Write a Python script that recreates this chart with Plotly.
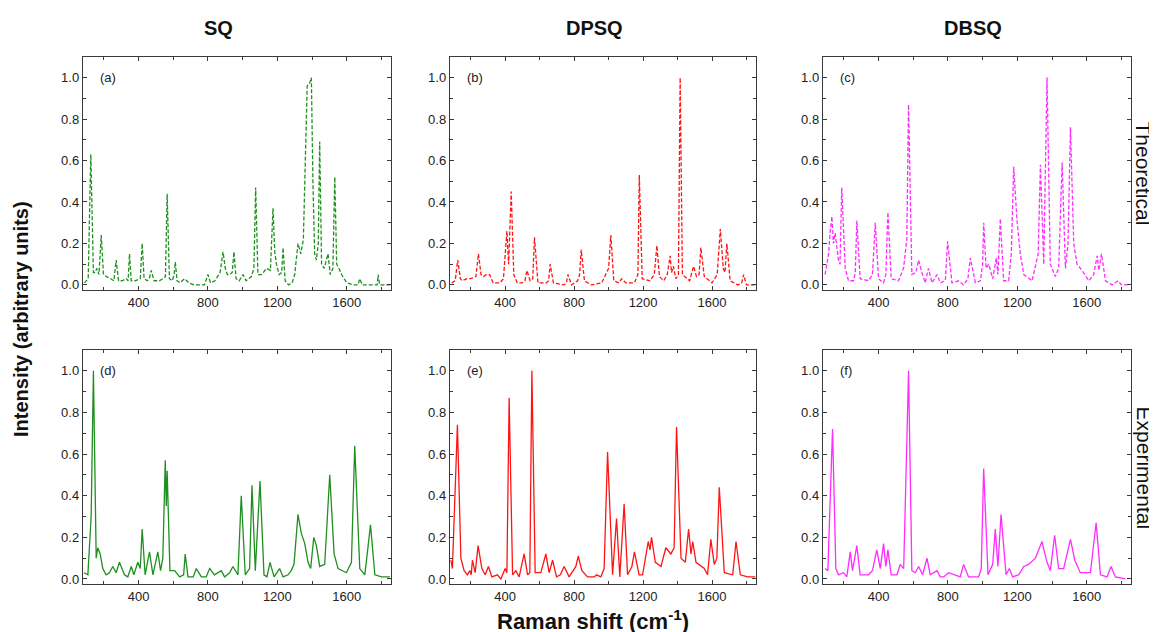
import plotly.graph_objects as go

# ---------------- data ----------------
# (a) SQ theoretical
sq_theo_x = [88, 110, 125, 140, 150, 160, 172, 185, 198, 215, 240, 258, 271, 285, 305, 330, 340, 348, 358, 380,
             410, 421, 432, 450, 462, 473, 490, 520, 540, 555, 565, 578, 595, 605, 612, 622, 640, 665, 690, 720,
             780, 800, 815, 840, 870, 887, 900, 912, 925, 940, 950, 962, 980, 1002, 1020, 1050, 1065, 1075, 1088,
             1110, 1138, 1160, 1175, 1185, 1195, 1210, 1225, 1233, 1245, 1265, 1285, 1300, 1319, 1335, 1350, 1358,
             1372, 1385, 1396, 1405, 1415, 1425, 1436, 1444, 1455, 1470, 1485, 1492, 1505, 1520, 1531, 1542, 1555,
             1570, 1600, 1640, 1665, 1675, 1690, 1720, 1760, 1775, 1781, 1790, 1820, 1850]
sq_theo_y = [0.01, 0.03, 0.63, 0.06, 0.06, 0.08, 0.05, 0.24, 0.05, 0.04, 0.03, 0.02, 0.12, 0.02, 0.02, 0.03, 0.02, 0.15, 0.02, 0.02,
             0.03, 0.20, 0.03, 0.02, 0.03, 0.07, 0.02, 0.02, 0.03, 0.04, 0.44, 0.03, 0.02, 0.05, 0.11, 0.02, 0.01, 0.03, 0.01, 0.00,
             0.00, 0.05, 0.01, 0.02, 0.06, 0.16, 0.08, 0.05, 0.05, 0.06, 0.16, 0.03, 0.02, 0.05, 0.02, 0.04, 0.08, 0.47, 0.05,
             0.05, 0.08, 0.07, 0.37, 0.16, 0.10, 0.05, 0.06, 0.18, 0.02, 0.00, 0.01, 0.05, 0.20, 0.15, 0.22, 0.47,
             0.96, 0.97, 1.00, 0.50, 0.15, 0.12, 0.20, 0.69, 0.10, 0.08, 0.12, 0.15, 0.05, 0.08, 0.52, 0.10, 0.08,
             0.05, 0.01, 0.00, 0.00, 0.03, 0.00, 0.00, 0.00, 0.00, 0.05, 0.00, 0.00, 0.00]

# (b) DPSQ theoretical
dpsq_theo_x = [90, 110, 125, 140, 150, 180, 200, 230, 245, 260, 275, 290, 310, 330, 340, 370, 390, 410, 420, 435,
               450, 470, 500, 515, 526, 545, 560, 570, 590, 640, 652, 661, 680, 740, 755, 764, 785, 820, 832, 841,
               860, 900, 960, 1000, 1013, 1030, 1060, 1076, 1100, 1150, 1170, 1178, 1195, 1240, 1265, 1280, 1295,
               1320, 1340, 1357, 1365, 1376, 1390, 1405, 1415, 1428, 1470, 1493, 1510, 1525, 1535, 1555, 1600, 1630,
               1648, 1665, 1675, 1686, 1705, 1750, 1772, 1783, 1800, 1850]
dpsq_theo_y = [0.01, 0.02, 0.12, 0.03, 0.02, 0.03, 0.03, 0.04, 0.15, 0.05, 0.04, 0.05, 0.05, 0.01, 0.01, 0.01, 0.03, 0.26, 0.10, 0.45,
               0.05, 0.01, 0.01, 0.02, 0.07, 0.02, 0.03, 0.23, 0.01, 0.01, 0.02, 0.10, 0.01, 0.00, 0.01, 0.05, 0.00, 0.02, 0.05, 0.17,
               0.02, 0.00, 0.01, 0.08, 0.24, 0.02, 0.01, 0.03, 0.01, 0.01, 0.05, 0.53, 0.03, 0.02, 0.05, 0.19, 0.04,
               0.02, 0.05, 0.14, 0.06, 0.09, 0.03, 0.05, 1.00, 0.05, 0.02, 0.09, 0.04, 0.05, 0.18, 0.04, 0.01, 0.05,
               0.27, 0.08, 0.06, 0.20, 0.02, 0.00, 0.01, 0.05, 0.00, 0.00]

# (c) DBSQ theoretical
dbsq_theo_x = [92, 112, 121, 131, 140, 150, 169, 178, 188, 208, 227, 256, 266, 275, 294, 342, 365, 381, 400, 429,
               442, 454, 473, 515, 544, 563, 573, 592, 615, 631, 650, 669, 688, 708, 737, 756, 785, 798, 823, 861,
               890, 915, 929, 958, 987, 1000, 1006, 1020, 1035, 1058, 1079, 1088, 1102, 1121, 1150, 1165, 1179,
               1198, 1217, 1237, 1285, 1320, 1333, 1352, 1371, 1390, 1419, 1438, 1458, 1477, 1492, 1506, 1525,
               1544, 1573, 1612, 1640, 1660, 1670, 1685, 1708, 1746, 1781, 1800, 1833]
dbsq_theo_y = [0.05, 0.15, 0.25, 0.33, 0.20, 0.25, 0.12, 0.10, 0.47, 0.08, 0.02, 0.02, 0.06, 0.31, 0.03, 0.02, 0.05, 0.30, 0.03, 0.01,
               0.05, 0.35, 0.03, 0.02, 0.08, 0.22, 0.87, 0.05, 0.06, 0.12, 0.06, 0.01, 0.08, 0.01, 0.05, 0.01, 0.02, 0.21, 0.01, 0.02,
               0.00, 0.03, 0.13, 0.01, 0.02, 0.10, 0.30, 0.08, 0.10, 0.03, 0.13, 0.05, 0.32, 0.02, 0.02, 0.15, 0.57,
               0.31, 0.15, 0.05, 0.02, 0.15, 0.58, 0.10, 1.00, 0.10, 0.04, 0.08, 0.59, 0.08, 0.20, 0.76, 0.20,
               0.10, 0.07, 0.02, 0.05, 0.14, 0.07, 0.15, 0.02, 0.00, 0.02, 0.00, 0.00]

# (d) SQ experimental
sq_exp_x = [85, 108, 127, 140, 156, 165, 179, 194, 213, 232, 252, 271, 290, 319, 338, 358, 373, 396, 410, 421,
            438, 463, 483, 511, 527, 540, 554, 560, 565, 581, 608, 637, 660, 669, 685, 715, 733, 762, 790, 810,
            838, 877, 896, 925, 944, 973, 992, 1015, 1040, 1054, 1073, 1100, 1123, 1140, 1158, 1181, 1213, 1233,
            1262, 1280, 1296, 1319, 1338, 1358, 1377, 1392, 1410, 1425, 1444, 1473, 1502, 1527, 1550, 1598, 1627,
            1646, 1675, 1704, 1737, 1762, 1800, 1848]
sq_exp_y = [0.03, 0.02, 0.30, 1.00, 0.10, 0.15, 0.12, 0.05, 0.02, 0.03, 0.06, 0.03, 0.08, 0.02, 0.01, 0.06, 0.02, 0.08, 0.05, 0.24,
            0.02, 0.13, 0.02, 0.13, 0.04, 0.10, 0.57, 0.35, 0.52, 0.04, 0.04, 0.01, 0.02, 0.12, 0.01, 0.01, 0.05, 0.01, 0.01, 0.05,
            0.02, 0.04, 0.01, 0.03, 0.06, 0.02, 0.40, 0.02, 0.05, 0.45, 0.04, 0.47, 0.02, 0.01, 0.08, 0.01, 0.05, 0.01,
            0.02, 0.04, 0.07, 0.31, 0.22, 0.17, 0.08, 0.05, 0.20, 0.16, 0.06, 0.07, 0.50, 0.12, 0.05, 0.03, 0.08,
            0.64, 0.05, 0.02, 0.26, 0.02, 0.01, 0.01]

# (e) DPSQ experimental
dpsq_exp_x = [85, 94, 123, 143, 162, 181, 195, 203, 210, 226, 243, 265, 284, 303, 323, 355, 375, 400, 410, 423,
              443, 462, 481, 510, 530, 543, 555, 574, 607, 636, 655, 675, 698, 720, 742, 771, 810, 824, 845, 878,
              917, 930, 955, 974, 994, 1023, 1046, 1065, 1090, 1110, 1135, 1150, 1177, 1197, 1230, 1240, 1249,
              1271, 1304, 1332, 1361, 1380, 1394, 1420, 1445, 1464, 1478, 1488, 1507, 1555, 1574, 1593, 1613,
              1628, 1642, 1671, 1720, 1739, 1764, 1806, 1851]
dpsq_exp_y = [0.09, 0.05, 0.74, 0.10, 0.04, 0.02, 0.04, 0.02, 0.09, 0.03, 0.16, 0.05, 0.02, 0.06, 0.01, 0.02, 0.00, 0.05, 0.03, 0.87,
              0.02, 0.04, 0.01, 0.12, 0.02, 0.03, 1.00, 0.03, 0.03, 0.12, 0.03, 0.09, 0.01, 0.02, 0.06, 0.01, 0.06, 0.11, 0.04, 0.01,
              0.01, 0.02, 0.01, 0.05, 0.61, 0.02, 0.29, 0.01, 0.36, 0.02, 0.06, 0.13, 0.02, 0.02, 0.18, 0.14, 0.20,
              0.08, 0.06, 0.15, 0.12, 0.15, 0.73, 0.10, 0.08, 0.24, 0.12, 0.18, 0.08, 0.05, 0.02, 0.19, 0.07,
              0.10, 0.44, 0.03, 0.02, 0.18, 0.02, 0.01, 0.01]

# (f) DBSQ experimental
dbsq_exp_x = [92, 108, 135, 154, 169, 198, 217, 237, 250, 275, 294, 342, 365, 390, 410, 429, 442, 454, 473, 506,
              525, 545, 573, 592, 612, 631, 654, 679, 698, 737, 756, 775, 804, 842, 871, 890, 919, 977, 992, 1006,
              1031, 1058, 1073, 1088, 1106, 1135, 1154, 1173, 1208, 1237, 1265, 1304, 1342, 1371, 1390, 1415, 1438,
              1467, 1506, 1531, 1563, 1621, 1654, 1679, 1717, 1740, 1765, 1823]
dbsq_exp_y = [0.05, 0.04, 0.72, 0.05, 0.02, 0.03, 0.01, 0.13, 0.04, 0.16, 0.02, 0.02, 0.04, 0.14, 0.05, 0.17, 0.06, 0.14, 0.02, 0.02,
              0.07, 0.05, 1.00, 0.04, 0.03, 0.06, 0.02, 0.10, 0.02, 0.04, 0.01, 0.01, 0.03, 0.02, 0.01, 0.07, 0.01, 0.01, 0.05, 0.53,
              0.02, 0.07, 0.24, 0.06, 0.31, 0.02, 0.05, 0.01, 0.02, 0.06, 0.07, 0.10, 0.18, 0.08, 0.04, 0.21, 0.05,
              0.05, 0.19, 0.09, 0.03, 0.03, 0.27, 0.02, 0.01, 0.06, 0.01, 0.00]

column_titles = ["SQ", "DPSQ", "DBSQ"]
row_titles = ["Theoretical", "Experimental"]
panel_labels = ["(a)", "(b)", "(c)", "(d)", "(e)", "(f)"]
x_ticks = [400, 800, 1200, 1600]
y_ticks = [0.0, 0.2, 0.4, 0.6, 0.8, 1.0]

# ---------------- styling ----------------
W, H = 1157, 632
FONT = "Liberation Sans, Arial, sans-serif"
colors = ["#1f8f1f", "#ff1414", "#ff2bff"]
col_px = [(75, 383), (442, 748), (815, 1123)]
row_px = [(49, 283), (343, 578)]

series = [
    (sq_theo_x, sq_theo_y), (dpsq_theo_x, dpsq_theo_y), (dbsq_theo_x, dbsq_theo_y),
    (sq_exp_x, sq_exp_y), (dpsq_exp_x, dpsq_exp_y), (dbsq_exp_x, dbsq_exp_y),
]

fig = go.Figure()
layout = {}
annotations = []

for i, (xs, ys) in enumerate(series):
    r, c = divmod(i, 3)
    n = i + 1
    xa = "x" if n == 1 else f"x{n}"
    ya = "y" if n == 1 else f"y{n}"
    line = dict(color=colors[c], width=1.3)
    if r == 0:
        line["dash"] = "4px,2px"
    fig.add_trace(go.Scatter(x=xs, y=ys, mode="lines", line=line, xaxis=xa, yaxis=ya,
                             showlegend=False, hoverinfo="skip"))
    x0, x1 = col_px[c]
    y0, y1 = row_px[r]
    axis_common = dict(showline=True, linecolor="#3a3a3a", linewidth=1.4, mirror="ticks",
                       ticks="inside", ticklen=4, tickwidth=1.4, tickcolor="#3a3a3a",
                       showgrid=False, zeroline=False,
                       tickfont=dict(family=FONT, size=13, color="#222"))
    layout["xaxis" if n == 1 else f"xaxis{n}"] = dict(
        domain=[x0 / W, x1 / W], anchor=ya, range=[80, 1855],
        tickmode="array", tickvals=x_ticks, ticktext=[str(v) for v in x_ticks],
        minor=dict(ticks="inside", dtick=200, tick0=0, ticklen=3, tickcolor="#3a3a3a", tickwidth=1.2),
        **axis_common)
    layout["yaxis" if n == 1 else f"yaxis{n}"] = dict(
        domain=[1 - y1 / H, 1 - y0 / H], anchor=xa, range=[-0.025, 1.1],
        tickmode="array", tickvals=y_ticks, ticktext=[f"{v:.1f}" for v in y_ticks],
        minor=dict(ticks="inside", dtick=0.1, tick0=0, ticklen=3, tickcolor="#3a3a3a", tickwidth=1.2),
        **axis_common)
    annotations.append(dict(text=panel_labels[i], x=165, y=1.0, xref=xa, yref=ya,
                            xanchor="left", yanchor="middle", showarrow=False,
                            font=dict(family=FONT, size=13, color="#222")))

# column titles
for c, (t, cx) in enumerate(zip(column_titles, [210, 586, 965])):
    annotations.append(dict(text=f"<b>{t}</b>", x=cx / W, y=1 - 20 / H, xref="paper", yref="paper",
                            xanchor="center", yanchor="middle", showarrow=False,
                            font=dict(family=FONT, size=20, color="#111")))
# row titles (right side)
for t, cy in zip(row_titles, [166, 461]):
    annotations.append(dict(text=t, x=1136 / W, y=1 - cy / H, xref="paper", yref="paper",
                            xanchor="center", yanchor="middle", showarrow=False, textangle=90,
                            font=dict(family=FONT, size=21, color="#111")))
# axis titles
annotations.append(dict(text="<b>Intensity (arbitrary units)</b>", x=13 / W, y=1 - 312 / H,
                        xref="paper", yref="paper", xanchor="center", yanchor="middle",
                        showarrow=False, textangle=-90, font=dict(family=FONT, size=20, color="#111")))
annotations.append(dict(text="<b>Raman shift (cm<sup>-1</sup>)</b>", x=585 / W, y=1 - 614 / H,
                        xref="paper", yref="paper", xanchor="center", yanchor="middle",
                        showarrow=False, font=dict(family=FONT, size=22, color="#111")))

fig.update_layout(width=W, height=H, margin=dict(l=0, r=0, t=0, b=0),
                  paper_bgcolor="white", plot_bgcolor="white",
                  annotations=annotations, **layout)

fig.write_html("out.html")
